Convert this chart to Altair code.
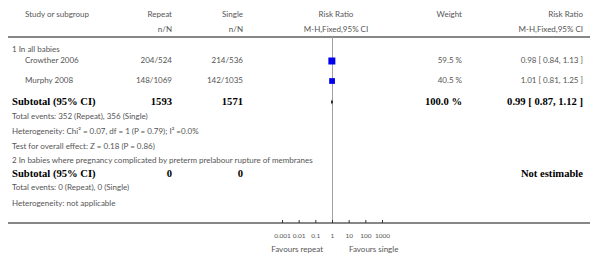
import altair as alt
import pandas as pd

# ---------------- data ----------------
studies = ["Crowther 2006", "Murphy 2008"]
repeat_nN = ["204/524", "148/1069"]
single_nN = ["214/536", "142/1035"]
weights = [59.5, 40.5]
weight_labels = ["59.5 %", "40.5 %"]
rr = [0.98, 1.01]
rr_lo = [0.84, 0.81]
rr_hi = [1.13, 1.25]
rr_labels = ["0.98 [ 0.84, 1.13 ]", "1.01 [ 0.81, 1.25 ]"]
pooled = [0.99, 0.87, 1.12]
pooled_label = "0.99 [ 0.87, 1.12 ]"
subtotal_repeat = ["1593", "0"]
subtotal_single = ["1571", "0"]
tick_values = [0.001, 0.01, 0.1, 1, 10, 100, 1000]
group_titles = ["1 In all babies",
                "2 In babies where pregnancy complicated by preterm prelabour rupture of membranes"]
notes1 = ["Total events: 352 (Repeat), 356 (Single)",
          "Heterogeneity: Chi\u00b2 = 0.07, df = 1 (P = 0.79); I\u00b2 =0.0%",
          "Test for overall effect: Z = 0.18 (P = 0.86)"]
notes2 = ["Total events: 0 (Repeat), 0 (Single)",
          "Heterogeneity: not applicable"]

# ---------------- layout (pixels) ----------------
W, H = 600, 223
X_GROUP, X_STUDY, X_REP, X_SIN, X_RR, X_W, X_RES = 12, 25, 172, 243, 336, 462, 583
Y_H1, Y_H2, Y_LINE = 15, 30, 37
Y_G1, Y_S = 50, [61, 81]
Y_SUB1, Y_N1 = 102, [117, 132, 147]
Y_G2, Y_SUB2, Y_N2 = 161, 174, [188, 204]
GREY = "#555555"
SANS = "Lato"
SERIF = "Liberation Serif"
FS, FB = 8, 10.6

sans_left, sans_right, sans_center, bold_left, bold_right = [], [], [], [], []
sans_left.append(("Study or subgroup", X_STUDY, Y_H1))
sans_right += [("Repeat", X_REP, Y_H1), ("Single", X_SIN, Y_H1), ("Weight", X_W, Y_H1),
               ("Risk Ratio", X_RES, Y_H1),
               ("n/N", X_REP, Y_H2), ("n/N", X_SIN, Y_H2), ("M-H,Fixed,95% CI", X_RES, Y_H2)]
sans_center += [("Risk Ratio", X_RR, Y_H1), ("M-H,Fixed,95% CI", X_RR, Y_H2)]
sans_left.append((group_titles[0], X_GROUP, Y_G1))
for i, s in enumerate(studies):
    sans_left.append((s, X_STUDY, Y_S[i]))
    sans_right += [(repeat_nN[i], X_REP, Y_S[i]), (single_nN[i], X_SIN, Y_S[i]),
                   (weight_labels[i], X_W, Y_S[i]), (rr_labels[i], X_RES, Y_S[i])]
bold_left.append(("Subtotal (95% CI)", X_GROUP, Y_SUB1))
bold_right += [(subtotal_repeat[0], X_REP, Y_SUB1), (subtotal_single[0], X_SIN, Y_SUB1),
               ("100.0 %", X_W, Y_SUB1), (pooled_label, X_RES, Y_SUB1)]
for t, y in zip(notes1, Y_N1):
    sans_left.append((t, X_GROUP, y))
sans_left.append((group_titles[1], X_GROUP, Y_G2))
bold_left.append(("Subtotal (95% CI)", X_GROUP, Y_SUB2))
bold_right += [(subtotal_repeat[1], X_REP, Y_SUB2), (subtotal_single[1], X_SIN, Y_SUB2),
               ("Not estimable", X_RES, Y_SUB2)]
for t, y in zip(notes2, Y_N2):
    sans_left.append((t, X_GROUP, y))
sans_right.append(("Favours repeat", 323, 250))
sans_left.append(("Favours single", 349, 250))


def text_layer(rows, align, font, size, color, weight="normal"):
    df = pd.DataFrame(rows, columns=["t", "x", "y"])
    return alt.Chart(df).mark_text(align=align, baseline="middle", font=font,
                                   fontSize=size, color=color, fontWeight=weight).encode(
        x=alt.X("x:Q", scale=None, axis=None),
        y=alt.Y("y:Q", scale=None, axis=None),
        text="t:N")


xs = alt.Scale(type="log", domain=[0.001, 1000], range=[282, 382])
YS = alt.Y("y0:Q", scale=None, axis=None)

studies_df = pd.DataFrame({"study": studies, "rr": rr, "lo": rr_lo, "hi": rr_hi,
                           "w": weights, "y0": Y_S})
pooled_df = pd.DataFrame({"rr": [pooled[0]], "lo": [pooled[1]], "hi": [pooled[2]], "y0": [Y_SUB1]})
ticks_df = pd.DataFrame({"v": tick_values})
ticks_df["y0"] = H - 3
ticks_df["y1"] = H
ref_df = pd.DataFrame({"v": [1], "y0": [Y_LINE], "y1": [H]})
hline_df = pd.DataFrame({"x0": [8, 8], "x1": [590, 590], "y0": [Y_LINE, H]})

ticks = alt.Chart(ticks_df).mark_rule(color="#333333", strokeWidth=1, xOffset=0.5).encode(
    x=alt.X("v:Q", scale=xs,
            axis=alt.Axis(values=tick_values, format="~g", domain=False, ticks=False,
                          grid=False, labelPadding=9, labelFontSize=6.5, labelFont=SANS,
                          labelColor=GREY, labelFlush=False, labelOverlap=False,
                          labelBound=False, title=None)),
    y=YS, y2="y1:Q")

ref_line = alt.Chart(ref_df).mark_rule(color="#a0a0a0", strokeWidth=1, xOffset=0.5).encode(
    x=alt.X("v:Q", scale=xs), y=YS, y2="y1:Q")

hlines = alt.Chart(hline_df).mark_rule(color="#111111", strokeWidth=1.2).encode(
    x=alt.X("x0:Q", scale=None, axis=None), x2="x1:Q", y=YS)

ci = alt.Chart(studies_df).mark_rule(color="#000000", strokeWidth=0.8).encode(
    x=alt.X("lo:Q", scale=xs), x2="hi:Q", y=YS)
squares = alt.Chart(studies_df).mark_square(color="#0000ee", opacity=1).encode(
    x=alt.X("rr:Q", scale=xs), y=YS,
    size=alt.Size("w:Q", scale=alt.Scale(domain=[0, 100], range=[0, 82]), legend=None))
diamond = alt.Chart(pooled_df).mark_point(shape="M0,-1L0.38,0L0,1L-0.38,0Z", filled=True,
                                          color="#000000", size=25, opacity=1).encode(
    x=alt.X("rr:Q", scale=xs), y=YS)

chart = alt.layer(
    hlines, ref_line, ticks, ci, squares, diamond,
    text_layer(sans_left, "left", SANS, FS, GREY),
    text_layer(sans_right, "right", SANS, FS, GREY),
    text_layer(sans_center, "center", SANS, FS, GREY),
    text_layer(bold_left, "left", SERIF, FB, "#000000", "bold"),
    text_layer(bold_right, "right", SERIF, FB, "#000000", "bold"),
).properties(
    width=W, height=H,
    autosize=alt.AutoSizeParams(type="none"),
    padding={"left": 0, "top": 0, "right": 0, "bottom": 37},
).configure_view(stroke=None)

chart.save("out.html", embed_options={"renderer": "svg", "actions": False})
